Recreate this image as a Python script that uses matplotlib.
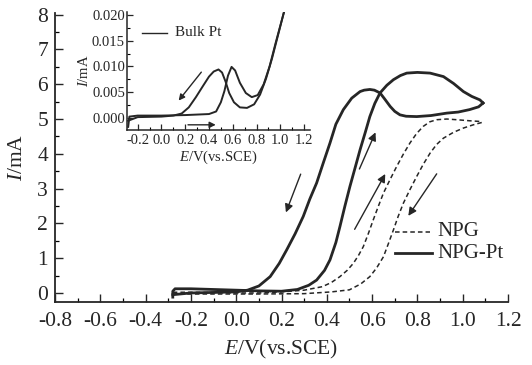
import matplotlib
matplotlib.use('Agg')
import matplotlib.pyplot as plt
from matplotlib.ticker import MultipleLocator

plt.rcParams['font.family'] = ['Liberation Serif', 'DejaVu Serif']
plt.rcParams['mathtext.fontset'] = 'custom'
plt.rcParams['mathtext.it'] = 'Liberation Serif:italic'
plt.rcParams['mathtext.rm'] = 'Liberation Serif'

INK = '#262626'

# NPG-Pt, anodic (forward) and cathodic (reverse) sweeps
pt_fwd_E = [-0.28, -0.28, -0.27, -0.2, 0.0, 0.1, 0.2, 0.27, 0.32, 0.355, 0.39, 0.414,
            0.44, 0.458, 0.48, 0.502, 0.525, 0.547, 0.57, 0.59, 0.612, 0.635, 0.665,
            0.694, 0.725, 0.753, 0.80, 0.856, 0.915, 0.96, 1.003, 1.04, 1.076, 1.09]
pt_fwd_I = [-0.12, 0.05, 0.12, 0.12, 0.08, 0.06, 0.05, 0.10, 0.22, 0.37, 0.65, 0.95,
            1.45, 1.91, 2.5, 3.06, 3.6, 4.12, 4.62, 5.07, 5.45, 5.75, 5.97,
            6.13, 6.25, 6.32, 6.34, 6.32, 6.22, 6.02, 5.79, 5.65, 5.55, 5.46]
pt_rev_E = [1.09, 1.07, 1.03, 0.98, 0.93, 0.86, 0.797, 0.75, 0.723, 0.70, 0.68, 0.655,
            0.635, 0.61, 0.59, 0.565, 0.547, 0.51, 0.473, 0.44, 0.414, 0.385, 0.355,
            0.325, 0.296, 0.26, 0.223, 0.19, 0.15, 0.10, 0.05, 0.0, -0.2, -0.28]
pt_rev_I = [5.46, 5.35, 5.27, 5.20, 5.17, 5.10, 5.07, 5.08, 5.12, 5.22, 5.36, 5.58,
            5.75, 5.83, 5.85, 5.83, 5.79, 5.6, 5.27, 4.85, 4.31, 3.75, 3.16,
            2.7, 2.2, 1.7, 1.24, 0.85, 0.47, 0.2, 0.08, 0.03, 0.0, -0.05]

# NPG (dashed)
npg_fwd_E = [-0.28, -0.2, 0.0, 0.1, 0.2, 0.3, 0.38, 0.42, 0.458, 0.49, 0.517, 0.54,
             0.561, 0.583, 0.605, 0.628, 0.65, 0.68, 0.708, 0.737, 0.767, 0.796,
             0.826, 0.855, 0.885, 0.93, 0.973, 1.03, 1.076]
npg_fwd_I = [0.02, 0.02, 0.0, 0.0, 0.03, 0.08, 0.18, 0.30, 0.47, 0.65, 0.85, 1.08,
             1.33, 1.7, 2.1, 2.5, 2.87, 3.27, 3.63, 3.98, 4.31, 4.58,
             4.79, 4.92, 4.98, 5.0, 4.98, 4.95, 4.93]
npg_rev_E = [1.084, 1.045, 1.003, 0.96, 0.915, 0.885, 0.856, 0.826, 0.797, 0.767,
             0.738, 0.715, 0.694, 0.672, 0.65, 0.62, 0.59, 0.55, 0.50, 0.42, 0.3,
             0.1, -0.28]
npg_rev_I = [4.90, 4.83, 4.74, 4.62, 4.45, 4.27, 4.02, 3.7, 3.35, 2.97,
             2.58, 2.2, 1.81, 1.42, 1.04, 0.72, 0.47, 0.26, 0.09, 0.03, -0.02,
             -0.03, -0.03]

# Bulk Pt (inset)
bulk_fwd_E = [-0.28, -0.27, -0.2, 0.0, 0.2, 0.4, 0.46, 0.50, 0.53, 0.56, 0.59, 0.62,
              0.66, 0.71, 0.76, 0.81, 0.86, 0.91, 0.96, 1.03]
bulk_fwd_I = [-0.0018, 0.0002, 0.0004, 0.0004, 0.0005, 0.0007, 0.0012, 0.0030, 0.0052,
              0.0082, 0.0099, 0.0092, 0.0068, 0.0048, 0.0040, 0.0044, 0.0065, 0.0100,
              0.0145, 0.0205]
bulk_rev_E = [1.03, 0.98, 0.93, 0.88, 0.83, 0.78, 0.72, 0.66, 0.61, 0.57, 0.54, 0.51,
              0.48, 0.44, 0.40, 0.35, 0.29, 0.23, 0.17, 0.10, 0.0, -0.2, -0.28]
bulk_rev_I = [0.0205, 0.0160, 0.0115, 0.0076, 0.0045, 0.0026, 0.0019, 0.0020, 0.0030,
              0.0048, 0.0070, 0.0088, 0.0094, 0.0090, 0.0080, 0.0062, 0.0040, 0.0020,
              0.0008, 0.0004, 0.0002, 0.0001, -0.0006]

# scan direction arrows: (tail E, tail I, head E, head I)
main_arrows = [(0.289, 3.49, 0.215, 2.24),
               (0.539, 3.49, 0.62, 4.69),
               (0.517, 1.76, 0.664, 3.49),
               (0.892, 3.49, 0.753, 2.15)]
inset_arrows = [(0.35, 0.0093, 0.13, 0.0029),
                (0.20, -0.0014, 0.48, -0.0014)]

fig = plt.figure(figsize=(5.32, 3.65), dpi=100)
ax = fig.add_axes([0.1034, 0.1726, 0.8515, 0.792])

ax.plot(pt_fwd_E, pt_fwd_I, color=INK, lw=2.0)
ax.plot(pt_rev_E, pt_rev_I, color=INK, lw=2.0)
ax.plot(npg_fwd_E, npg_fwd_I, color=INK, lw=1.1, ls=(0, (3, 2)))
ax.plot(npg_rev_E, npg_rev_I, color=INK, lw=1.1, ls=(0, (3, 2)))

for x0, y0, x1, y1 in main_arrows:
    ax.annotate('', xy=(x1, y1), xytext=(x0, y0),
                arrowprops=dict(arrowstyle='-|>', color=INK, lw=1.0,
                                mutation_scale=12))

# legend drawn by hand like the original
ax.plot([0.70, 0.856], [1.76, 1.76], color=INK, lw=1.1, ls=(0, (3, 2)))
ax.text(0.89, 1.76, 'NPG', fontsize=15, va='center', ha='left', color=INK)
ax.plot([0.70, 0.863], [1.14, 1.14], color=INK, lw=2.0)
ax.text(0.89, 1.14, 'NPG-Pt', fontsize=15, va='center', ha='left', color=INK)

ax.set_xlim(-0.8, 1.2)
ax.set_ylim(-0.26, 8.05)
ax.xaxis.set_minor_locator(MultipleLocator(0.1))
ax.yaxis.set_minor_locator(MultipleLocator(0.5))
ax.set_xticks([-0.8, -0.6, -0.4, -0.2, 0.0, 0.2, 0.4, 0.6, 0.8, 1.0, 1.2])
ax.set_xticklabels(['-0.8', '-0.6', '-0.4', '-0.2', '0.0', '0.2', '0.4', '0.6',
                    '0.8', '1.0', '1.2'])
ax.set_yticks(range(0, 9))
ax.tick_params(which='major', direction='in', length=6, width=1.0, labelsize=15.5,
               colors=INK)
ax.tick_params(axis='x', which='major', pad=7)
ax.tick_params(axis='y', which='major', pad=5)
ax.tick_params(which='minor', direction='in', length=3, width=0.9)
for side in ['top', 'right']:
    ax.spines[side].set_visible(False)
for side in ['left', 'bottom']:
    ax.spines[side].set_linewidth(1.3)
    ax.spines[side].set_color(INK)
ax.set_xlabel('$E$/V(vs.SCE)', fontsize=15.5, color=INK, labelpad=5)
ax.set_ylabel('$I$/mA', fontsize=15.5, color=INK, labelpad=7)

# inset
ins = fig.add_axes([0.2387, 0.644, 0.344, 0.323])
ins.plot(bulk_fwd_E, bulk_fwd_I, color=INK, lw=1.4)
ins.plot(bulk_rev_E, bulk_rev_I, color=INK, lw=1.4)
for x0, y0, x1, y1 in inset_arrows:
    ins.annotate('', xy=(x1, y1), xytext=(x0, y0),
                 arrowprops=dict(arrowstyle='-|>', color=INK, lw=1.0,
                                 mutation_scale=9))
ins.plot([-0.165, 0.045], [0.0166, 0.0166], color=INK, lw=1.0)
ins.text(0.11, 0.0166, 'Bulk Pt', fontsize=11, va='center', ha='left', color=INK)
ins.set_xlim(-0.29, 1.25)
ins.set_ylim(-0.0024, 0.0206)
ins.set_xticks([-0.2, 0.0, 0.2, 0.4, 0.6, 0.8, 1.0, 1.2])
ins.set_xticklabels(['-0.2', '0.0', '0.2', '0.4', '0.6', '0.8', '1.0', '1.2'])
ins.xaxis.set_minor_locator(MultipleLocator(0.1))
ins.set_yticks([0.0, 0.005, 0.010, 0.015, 0.020])
ins.set_yticklabels(['0.000', '0.005', '0.010', '0.015', '0.020'])
ins.yaxis.set_minor_locator(MultipleLocator(0.0025))
ins.tick_params(which='major', direction='in', length=4, width=0.9, labelsize=10.5,
                colors=INK, pad=1.5)
ins.tick_params(axis='x', which='major', pad=3)
ins.tick_params(which='minor', direction='in', length=2, width=0.8)
for side in ['top', 'right']:
    ins.spines[side].set_visible(False)
for side in ['left', 'bottom']:
    ins.spines[side].set_linewidth(1.1)
    ins.spines[side].set_color(INK)
ins.set_xlabel('$E$/V(vs.SCE)', fontsize=10.5, color=INK, labelpad=1)
ins.set_ylabel('$I$/mA', fontsize=10.5, color=INK, labelpad=1)
ins.patch.set_alpha(0)

fig.savefig('out.png', dpi=100)
